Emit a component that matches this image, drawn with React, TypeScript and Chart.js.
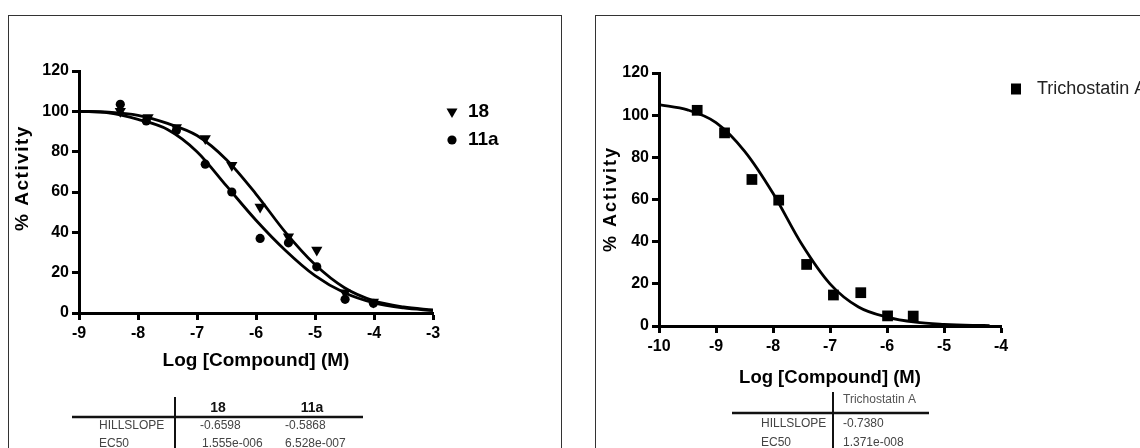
import React, { useEffect, useRef } from "react";
import { Chart, registerables } from "chart.js";

Chart.register(...registerables);

const FONT = "Arial, 'Liberation Sans', sans-serif";

// ---------- Panel A: compounds 18 and 11a ----------
const seriesNamesA = ["18", "11a"];
const logConc18 = [-8.3, -7.83, -7.35, -6.86, -6.41, -5.93, -5.45, -4.97, -4.49, -4.01];
const activity18 = [100, 97, 92, 86.5, 73.3, 52.6, 37.8, 31.2, 10, 5.5];
const logConc11a = [-8.3, -7.86, -7.35, -6.86, -6.41, -5.93, -5.45, -4.97, -4.49, -4.01];
const activity11a = [103.5, 95.2, 90.5, 73.8, 60, 37, 34.8, 22.9, 6.8, 4.8];
const fitLogA = [-9, -8.5, -8, -7.5, -7, -6.5, -6, -5.5, -5, -4.5, -4, -3.5, -3];
const fit18 = [100, 99.6, 98, 94, 88, 76, 59, 40, 24, 12.5, 6, 3, 1.5];
const fit11a = [100, 99.2, 96, 91, 80, 63, 46, 31, 18.5, 10, 5, 2.5, 1.2];
const hillA = ["-0.6598", "-0.5868"];
const ec50A = ["1.555e-006", "6.528e-007"];
const xRangeA = [-9, -3];

// ---------- Panel B: Trichostatin A ----------
const seriesNameB = "Trichostatin A";
const logConcTSA = [-9.33, -8.85, -8.37, -7.9, -7.41, -6.94, -6.46, -5.99, -5.54];
const activityTSA = [102.3, 91.6, 69.5, 59.7, 29.2, 14.7, 15.8, 4.8, 4.7];
const fitLogB = [-10, -9.5, -9, -8.5, -8, -7.5, -7, -6.5, -6, -5.5, -5, -4.5, -4.2];
const fitTSA = [105, 102.5, 96.5, 83, 63, 39, 20, 9, 4.2, 1.8, 0.8, 0.3, 0.2];
const hillB = ["-0.7380"];
const ec50B = ["1.371e-008"];
const xRangeB = [-10, -4];

const yRange = [0, 120];
const yStep = 20;
const xTitle = "Log [Compound] (M)";
const yTitle = "% Activity";
const rowLabels = ["HILLSLOPE", "EC50"];

const pts = (xs: number[], ys: number[]) => xs.map((x, i) => ({ x, y: ys[i] }));

function axes(xr: number[]) {
  const common = {
    border: { display: true, color: "#000", width: 3 },
    grid: {
      display: true,
      drawOnChartArea: false,
      drawTicks: true,
      tickLength: 7,
      tickWidth: 3,
      tickColor: "#000",
      color: "#000",
    },
  };
  return {
    x: {
      type: "linear",
      min: xr[0],
      max: xr[1],
      ...common,
      ticks: {
        stepSize: 1,
        autoSkip: false,
        color: "#000",
        padding: 4,
        font: { family: FONT, size: 16, weight: "bold" },
        callback: (v: number) => String(v),
      },
      afterFit: (s: any) => {
        s.height = 30;
      },
    },
    y: {
      type: "linear",
      min: yRange[0],
      max: yRange[1],
      ...common,
      ticks: {
        stepSize: yStep,
        autoSkip: false,
        color: "#000",
        padding: 3,
        font: { family: FONT, size: 16, weight: "bold" },
      },
      afterFit: (s: any) => {
        s.width = 40;
      },
    },
  };
}

function text(ctx: CanvasRenderingContext2D, s: string, x: number, y: number, font: string, align: CanvasTextAlign = "left", color = "#000") {
  ctx.font = font;
  ctx.fillStyle = color;
  ctx.textAlign = align;
  ctx.textBaseline = "middle";
  ctx.fillText(s, x, y);
}

function line(ctx: CanvasRenderingContext2D, x1: number, y1: number, x2: number, y2: number, w: number) {
  ctx.beginPath();
  ctx.strokeStyle = "#111";
  ctx.lineWidth = w;
  ctx.moveTo(x1, y1);
  ctx.lineTo(x2, y2);
  ctx.stroke();
}

const decorA = {
  id: "decorA",
  afterDraw(chart: any) {
    const ctx: CanvasRenderingContext2D = chart.ctx;
    const a = chart.chartArea;
    ctx.save();
    ctx.strokeStyle = "#333";
    ctx.lineWidth = 1;
    ctx.strokeRect(8.5, 15.5, 553, 480);
    // y title
    ctx.save();
    ctx.translate(23, 178);
    ctx.rotate(-Math.PI / 2);
    (ctx as any).letterSpacing = "1.5px";
    text(ctx, yTitle, 0, 0, `bold 19px ${FONT}`, "center");
    ctx.restore();
    (ctx as any).letterSpacing = "0px";
    // x title
    text(ctx, xTitle, (a.left + a.right) / 2, 361, `bold 19px ${FONT}`, "center");
    // legend
    const lx = 452;
    ctx.fillStyle = "#000";
    ctx.beginPath();
    ctx.moveTo(lx, 112 + 6);
    ctx.lineTo(lx - 5.5, 112 - 3.5);
    ctx.lineTo(lx + 5.5, 112 - 3.5);
    ctx.closePath();
    ctx.fill();
    ctx.beginPath();
    ctx.arc(lx, 140, 4.6, 0, Math.PI * 2);
    ctx.fill();
    text(ctx, seriesNamesA[0], 468, 112, `bold 19px ${FONT}`);
    text(ctx, seriesNamesA[1], 468, 140, `bold 19px ${FONT}`);
    // table
    line(ctx, 175, 397, 175, 448, 2);
    line(ctx, 72, 417, 363, 417, 2.5);
    text(ctx, seriesNamesA[0], 218, 408, `bold 14px ${FONT}`, "center", "#111");
    text(ctx, seriesNamesA[1], 312, 408, `bold 14px ${FONT}`, "center", "#111");
    const f = `12px ${FONT}`;
    text(ctx, rowLabels[0], 99, 426, f, "left", "#444");
    text(ctx, hillA[0], 200, 426, f, "left", "#444");
    text(ctx, hillA[1], 285, 426, f, "left", "#444");
    text(ctx, rowLabels[1], 99, 444, f, "left", "#444");
    text(ctx, ec50A[0], 202, 444, f, "left", "#444");
    text(ctx, ec50A[1], 285, 444, f, "left", "#444");
    ctx.restore();
  },
};

const OFF = 570;
const decorB = {
  id: "decorB",
  afterDraw(chart: any) {
    const ctx: CanvasRenderingContext2D = chart.ctx;
    const a = chart.chartArea;
    ctx.save();
    ctx.strokeStyle = "#333";
    ctx.lineWidth = 1;
    ctx.strokeRect(595.5 - OFF, 15.5, 700, 480);
    ctx.save();
    ctx.translate(611 - OFF, 199);
    ctx.rotate(-Math.PI / 2);
    (ctx as any).letterSpacing = "2px";
    text(ctx, yTitle, 0, 0, `bold 18px ${FONT}`, "center");
    ctx.restore();
    (ctx as any).letterSpacing = "0px";
    text(ctx, xTitle, (a.left + a.right) / 2, 378, `bold 18.5px ${FONT}`, "center");
    // legend
    ctx.fillStyle = "#000";
    ctx.fillRect(1016 - OFF - 5, 89 - 5.5, 10, 11);
    text(ctx, seriesNameB, 1037 - OFF, 89, `18px ${FONT}`, "left", "#222");
    // table
    line(ctx, 833 - OFF, 392, 833 - OFF, 448, 2);
    line(ctx, 732 - OFF, 413, 929 - OFF, 413, 2.5);
    const f = `12px ${FONT}`;
    text(ctx, seriesNameB, 843 - OFF, 400, f, "left", "#555");
    text(ctx, rowLabels[0], 761 - OFF, 424, f, "left", "#444");
    text(ctx, hillB[0], 843 - OFF, 424, f, "left", "#444");
    text(ctx, rowLabels[1], 761 - OFF, 443, f, "left", "#444");
    text(ctx, ec50B[0], 843 - OFF, 443, f, "left", "#444");
    ctx.restore();
  },
};

const curve = (data: any[]) => ({
  data,
  showLine: true,
  pointRadius: 0,
  borderColor: "#000",
  borderWidth: 2.8,
  cubicInterpolationMode: "monotone",
  fill: false,
});

const markers = (data: any[], style: string, r: number, rot = 0) => ({
  data,
  showLine: false,
  pointStyle: style,
  pointRadius: r,
  rotation: rot,
  backgroundColor: "#000",
  borderColor: "#000",
  borderWidth: 0,
  clip: false,
});

function baseOptions(xr: number[], padding: any) {
  return {
    responsive: false,
    animation: false,
    events: [],
    layout: { padding },
    plugins: { legend: { display: false }, tooltip: { enabled: false } },
    scales: axes(xr),
  };
}

export default function App() {
  const refA = useRef<HTMLCanvasElement>(null);
  const refB = useRef<HTMLCanvasElement>(null);

  useEffect(() => {
    const cA = new Chart(refA.current as HTMLCanvasElement, {
      type: "scatter",
      data: {
        datasets: [
          curve(pts(fitLogA, fit18)),
          curve(pts(fitLogA, fit11a)),
          markers(pts(logConc18, activity18), "triangle", 6.5, 180),
          markers(pts(logConc11a, activity11a), "circle", 4.6),
        ] as any,
      },
      options: baseOptions(xRangeA, { left: 39, right: 137, top: 71, bottom: 105 }) as any,
      plugins: [decorA],
    });
    const cB = new Chart(refB.current as HTMLCanvasElement, {
      type: "scatter",
      data: {
        datasets: [
          curve(pts(fitLogB, fitTSA)),
          markers(pts(logConcTSA, activityTSA), "rect", 7.6),
        ] as any,
      },
      options: baseOptions(xRangeB, { left: 49, right: 139, top: 73, bottom: 92 }) as any,
      plugins: [decorB],
    });
    return () => {
      cA.destroy();
      cB.destroy();
    };
  }, []);

  return (
    <div
      style={{
        position: "fixed",
        left: 0,
        top: 0,
        width: 1140,
        height: 448,
        background: "#fff",
        display: "flex",
        overflow: "hidden",
      }}
    >
      <canvas ref={refA} width={570} height={448} style={{ width: 570, height: 448, display: "block" }} />
      <canvas ref={refB} width={570} height={448} style={{ width: 570, height: 448, display: "block" }} />
    </div>
  );
}
